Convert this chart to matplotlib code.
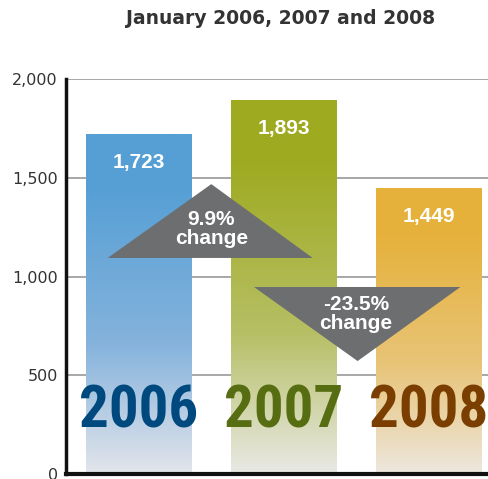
import matplotlib
matplotlib.use("Agg")
import matplotlib.pyplot as plt
import numpy as np
from matplotlib.colors import LinearSegmentedColormap
from matplotlib.patches import Polygon

# --- data ---
years = ["2006", "2007", "2008"]
values = [1723, 1893, 1449]
top_colors = ["#559fd5", "#9eaa1f", "#e6b13a"]
mid_colors = ["#85b3dc", "#b6bf64", "#e8c478"]
bottom_colors = ["#e3e5eb", "#e9e9e5", "#ede7de"]
year_colors = ["#00497f", "#566d12", "#7a3f00"]
yticks = [0, 500, 1000, 1500, 2000]

fig = plt.figure(figsize=(4.89, 4.79), dpi=100)
ax = fig.add_axes([0.135, 0.0104, 0.87, 0.8246])

x = np.arange(len(years))
width = 0.73
bars = ax.bar(x, values, width=width, color="none", edgecolor="none", zorder=2)

# gradient fill inside each bar
grad = np.linspace(0, 1, 256).reshape(-1, 1)
for i, b in enumerate(bars):
    cmap = LinearSegmentedColormap.from_list(
        "g%d" % i, [(0, bottom_colors[i]), (0.38, mid_colors[i]), (0.85, top_colors[i]), (1, top_colors[i])])
    im = ax.imshow(grad, cmap=cmap, origin="lower", aspect="auto",
                   extent=(b.get_x(), b.get_x() + b.get_width(), 0, b.get_height()), zorder=2)
    im.set_clip_path(b)

# value labels and year labels
for i, v in enumerate(values):
    ax.text(x[i], v - 145, f"{v:,}", ha="center", va="center", color="white",
            fontsize=15, fontweight="bold", family="Liberation Sans", zorder=5)
    ax.text(x[i], 318, years[i], ha="center", va="center", color=year_colors[i],
            fontsize=42.5, fontweight="bold", family="Roboto Condensed", zorder=5)

# change arrows between consecutive years
tri_color = "#6d6e70"
for i in range(len(values) - 1):
    pct = (values[i + 1] - values[i]) / values[i] * 100
    cx = (x[i] + x[i + 1]) / 2
    if pct >= 0:
        pts = [(cx - 0.715, 1094), (cx + 0.70, 1094), (cx, 1468)]
        ty = 1240
    else:
        pts = [(cx - 0.705, 947), (cx + 0.72, 947), (cx + 0.01, 572)]
        ty = 812
    ax.add_patch(Polygon(pts, closed=True, color=tri_color, zorder=4, lw=0))
    ax.text(cx, ty, f"{pct:.1f}%\nchange", ha="center", va="center", color="white",
            fontsize=15, fontweight="bold", family="Liberation Sans",
            linespacing=1.0, zorder=6)

ax.set_xlim(-0.503, 2.434)
ax.set_ylim(0, 2000)
ax.set_yticks(yticks)
ax.set_yticklabels([f"{t:,}" for t in yticks], fontsize=11.5, color="#333333")
ax.set_xticks([])
ax.tick_params(axis="y", length=0, pad=6)
ax.yaxis.grid(True, color="#a0a0a0", lw=1.3, zorder=0)
ax.set_axisbelow(True)
for s in ["top", "right"]:
    ax.spines[s].set_visible(False)
ax.spines["left"].set_linewidth(2.5)
ax.spines["bottom"].set_linewidth(3)
ax.spines["left"].set_color("#111111")
ax.spines["bottom"].set_color("#111111")

fig.text(0.573, 0.962, "January 2006, 2007 and 2008", ha="center", va="center",
         fontsize=13.5, fontweight="bold", color="#333333", family="DejaVu Sans")

fig.savefig("out.png", dpi=100)
